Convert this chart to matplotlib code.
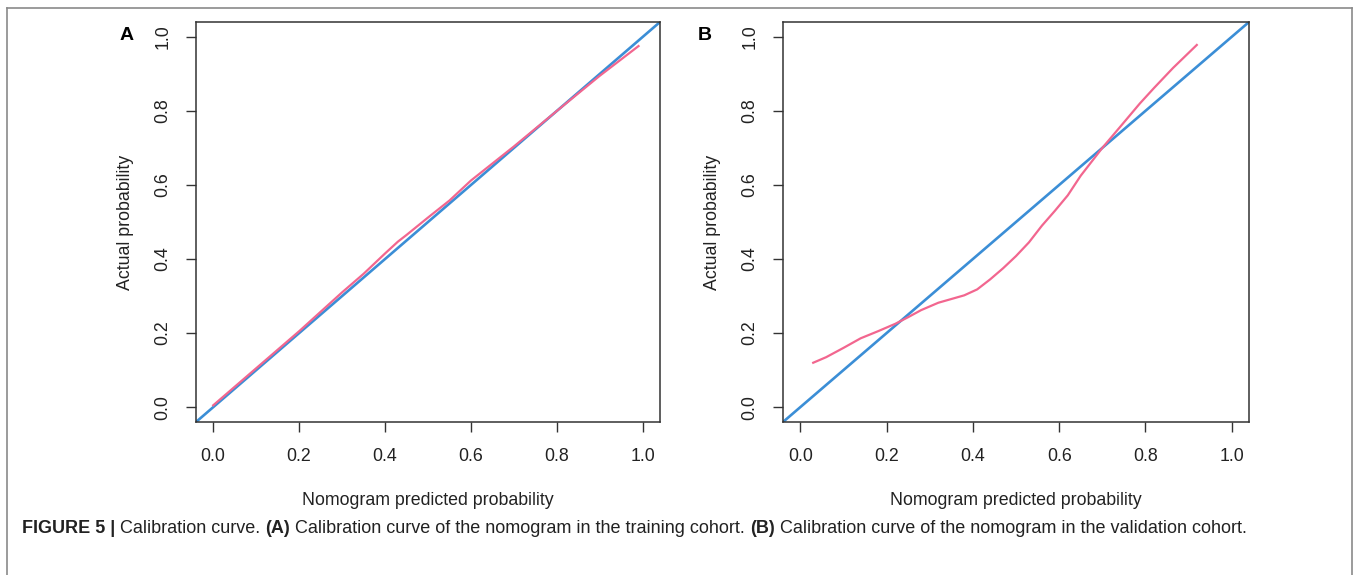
import matplotlib
matplotlib.use("Agg")
import matplotlib.pyplot as plt
from matplotlib.lines import Line2D

# calibration curves
train_pred = [0.0, 0.1, 0.2, 0.3, 0.35, 0.4, 0.43, 0.45, 0.5, 0.55, 0.6, 0.65, 0.7, 0.8, 0.9, 0.99]
train_actual = [0.005, 0.105, 0.205, 0.31, 0.36, 0.415, 0.447, 0.465, 0.512, 0.558, 0.612, 0.658, 0.704, 0.80, 0.895, 0.975]

valid_pred = [0.03, 0.06, 0.10, 0.14, 0.18, 0.22, 0.25, 0.28, 0.32, 0.35, 0.38, 0.41, 0.44,
              0.47, 0.50, 0.53, 0.56, 0.59, 0.62, 0.65, 0.68, 0.70, 0.74, 0.787, 0.82, 0.864, 0.919]
valid_actual = [0.12, 0.135, 0.16, 0.186, 0.205, 0.225, 0.243, 0.262, 0.282, 0.292, 0.302, 0.318, 0.345,
                0.375, 0.408, 0.445, 0.49, 0.53, 0.572, 0.625, 0.67, 0.70, 0.755, 0.82, 0.862, 0.916, 0.978]

ticks = [0.0, 0.2, 0.4, 0.6, 0.8, 1.0]
tick_labels = ["0.0", "0.2", "0.4", "0.6", "0.8", "1.0"]

blue = "#3b8ed6"
pink = "#f2668f"
ink = "#222222"

plt.rcParams['font.family'] = ['Liberation Sans', 'DejaVu Sans']

W, H = 1358, 575
fig = plt.figure(figsize=(W / 100, H / 100), dpi=100)


def px_axes(left, right, top, bottom):
    return fig.add_axes([left / W, 1 - bottom / H, (right - left) / W, (bottom - top) / H])


def panel(ax, xs, ys, letter, letter_x):
    ax.axline((0, 0), slope=1, color=blue, lw=1.9, zorder=2)
    ax.plot(xs, ys, color=pink, lw=1.6, zorder=3, solid_joinstyle="round")
    ax.set_xlim(-0.04, 1.04)
    ax.set_ylim(-0.04, 1.04)
    ax.set_xticks(ticks)
    ax.set_xticklabels(tick_labels)
    ax.set_yticks(ticks)
    ax.set_yticklabels(tick_labels, rotation=90, va="center")
    ax.tick_params(axis="both", direction="out", length=7.5, width=1.0,
                   colors="#333333", labelcolor=ink, labelsize=12.8)
    ax.tick_params(axis="x", pad=11)
    ax.tick_params(axis="y", pad=10)
    for s in ax.spines.values():
        s.set_color("#333333")
        s.set_linewidth(1.1)
    ax.set_xlabel("Nomogram predicted probability", fontsize=12.8, color=ink, labelpad=20)
    ax.set_ylabel("Actual probability", fontsize=12.8, color=ink, labelpad=15)
    fig.text(letter_x / W, 1 - 35 / H, letter, fontsize=14, fontweight="bold",
             ha="center", va="center", color="black")


axA = px_axes(196, 660, 22, 422)
panel(axA, train_pred, train_actual, "A", 127)

axB = px_axes(783, 1249, 22, 422)
panel(axB, valid_pred, valid_actual, "B", 705)

# outer frame of the figure
frame = dict(color="#8a8a8a", lw=1.2, transform=fig.transFigure)
fig.add_artist(Line2D([7 / W, 7 / W], [0, 1 - 8 / H], **frame))
fig.add_artist(Line2D([7 / W, 1352 / W], [1 - 8 / H, 1 - 8 / H], **frame))
fig.add_artist(Line2D([1352 / W, 1352 / W], [0, 1 - 8 / H], **frame))

# caption, written piece by piece on one baseline
cap_y = 1 - 533 / H
parts = [("FIGURE 5 | ", "bold"), ("Calibration curve. ", "normal"), ("(A)", "bold"),
         (" Calibration curve of the nomogram in the training cohort. ", "normal"),
         ("(B)", "bold"),
         (" Calibration curve of the nomogram in the validation cohort.", "normal")]
x = 22
for txt, wt in parts:
    t = fig.text(x / W, cap_y, txt, fontsize=13.0, fontweight=wt, va="baseline", ha="left",
                 color=ink)
    fig.canvas.draw()
    x = t.get_window_extent().x1

fig.savefig("out.png", dpi=100, facecolor="white")
